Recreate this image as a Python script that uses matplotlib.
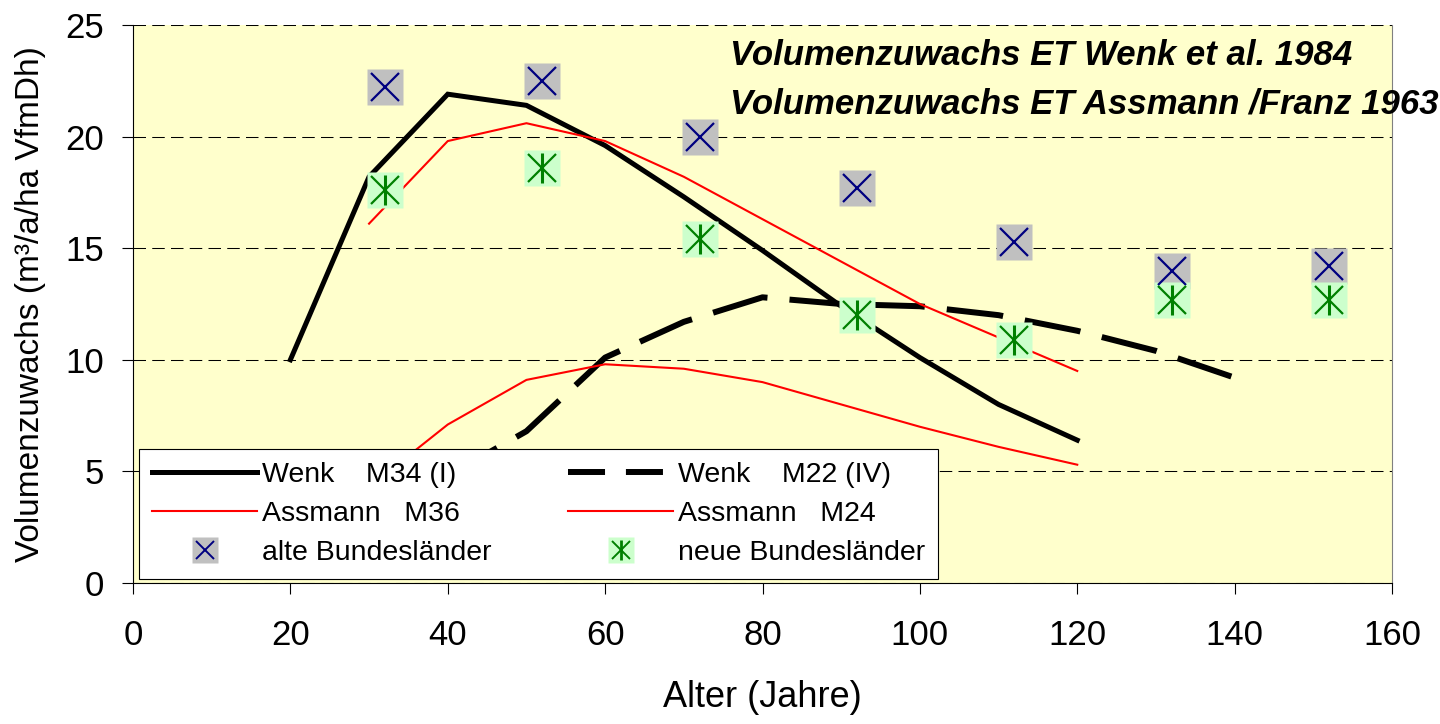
import numpy as np
import matplotlib
matplotlib.use("Agg")
import matplotlib.pyplot as plt
from matplotlib.lines import Line2D

plt.rcParams['font.family'] = ['Liberation Sans', 'DejaVu Sans']

# Ertragstafel-Kurven (Alter in Jahren, Zuwachs in m3/a/ha)
alter_m34 = [20, 30, 40, 50, 60, 70, 80, 90, 100, 110, 120]
wenk_m34 = [10.0, 18.2, 21.9, 21.4, 19.6, 17.3, 14.9, 12.4, 10.1, 8.0, 6.4]

alter_m22 = [40, 50, 60, 70, 80, 90, 100, 110, 120, 130, 140]
wenk_m22 = [4.8, 6.8, 10.1, 11.7, 12.8, 12.5, 12.4, 12.0, 11.3, 10.4, 9.2]

alter_a36 = [30, 40, 50, 60, 70, 80, 90, 100, 110, 120]
assmann_m36 = [16.1, 19.8, 20.6, 19.8, 18.2, 16.3, 14.4, 12.5, 11.0, 9.5]

alter_a24 = [30, 40, 50, 60, 70, 80, 90, 100, 110, 120]
assmann_m24 = [4.3, 7.1, 9.1, 9.8, 9.6, 9.0, 8.0, 7.0, 6.1, 5.3]

# Inventurwerte
alter_inv = [32, 52, 72, 92, 112, 132, 152]
alte_bl = [22.2, 22.5, 20.0, 17.7, 15.3, 14.0, 14.2]
neue_bl = [17.6, 18.6, 15.4, 12.0, 10.9, 12.7, 12.7]

fig = plt.figure(figsize=(14.4, 7.24), dpi=100)
ax = fig.add_axes([133 / 1440, 1 - 583 / 724, 1259 / 1440, 558 / 724])
ax.set_facecolor('#FFFFCC')

ax.plot(alter_m34, wenk_m34, color='black', lw=3.6, solid_joinstyle='miter', zorder=3)
ax.plot(alter_m22, wenk_m22, color='black', lw=4.3, dashes=(9.5, 3.7), zorder=3)
ax.plot(alter_a36, assmann_m36, color='red', lw=1.5, zorder=3)
ax.plot(alter_a24, assmann_m24, color='red', lw=1.5, zorder=3)

ax.plot(alter_inv, alte_bl, ls='none', marker='s', ms=26.5, mfc='#C0C0C0', mec='none', zorder=4)
ax.plot(alter_inv, alte_bl, ls='none', marker='x', ms=20, mec='#000080', mew=1.6, zorder=5)
ax.plot(alter_inv, neue_bl, ls='none', marker='s', ms=26.5, mfc='#CCFFCC', mec='none', zorder=4)
ax.plot(alter_inv, neue_bl, ls='none', marker='x', ms=20, mec='#008000', mew=1.6, zorder=5)
ax.plot(alter_inv, neue_bl, ls='none', marker='|', ms=21, mec='#008000', mew=2.2, zorder=5)

ax.set_xlim(0, 160)
ax.set_ylim(0, 25)
ax.set_xticks(np.arange(0, 161, 20))
ax.set_yticks(np.arange(0, 26, 5))
ax.tick_params(direction='out', length=8, width=0.8, labelsize=25)
ax.tick_params(axis='x', pad=18)
ax.tick_params(axis='y', pad=13)
ax.yaxis.grid(True, color='black', lw=0.75, ls=(0, (12, 6)))
ax.set_axisbelow(True)
ax.spines['top'].set_visible(False)
ax.spines['right'].set_color('#808080')
ax.spines['right'].set_linewidth(0.8)

ax.set_xlabel('Alter (Jahre)', fontsize=26, labelpad=20)
ax.set_ylabel('Volumenzuwachs (m³/a/ha VfmDh)', fontsize=24, labelpad=14)

ax.text(0.474, 0.975, 'Volumenzuwachs ET Wenk et al. 1984\nVolumenzuwachs ET Assmann /Franz 1963',
        transform=ax.transAxes, ha='left', va='top', fontsize=25,
        fontweight='bold', fontstyle='italic', linespacing=1.6, clip_on=False)

# Legende mit eigenen Symbolen
h_m34 = Line2D([], [], color='black', lw=3.6)
h_m22 = Line2D([], [], color='black', lw=4.3, dashes=(6.2, 3.5))
h_a36 = Line2D([], [], color='red', lw=1.5)
h_a24 = Line2D([], [], color='red', lw=1.5)
h_alte = (Line2D([], [], ls='none', marker='s', ms=19, mfc='#C0C0C0', mec='none'),
          Line2D([], [], ls='none', marker='x', ms=13, mec='#000080', mew=1.4))
h_neue = (Line2D([], [], ls='none', marker='s', ms=19, mfc='#CCFFCC', mec='none'),
          Line2D([], [], ls='none', marker='x', ms=13, mec='#008000', mew=1.4),
          Line2D([], [], ls='none', marker='|', ms=14, mec='#008000', mew=2))

leg = ax.legend([h_m34, h_a36, h_alte, h_m22, h_a24, h_neue],
                ['Wenk    M34 (I)', 'Assmann   M36', 'alte Bundesländer',
                 'Wenk    M22 (IV)', 'Assmann   M24', 'neue Bundesländer'],
                ncol=2, loc='lower left', bbox_to_anchor=(0.005, 0.008), borderaxespad=0,
                fontsize=20.5, frameon=True, fancybox=False, framealpha=1,
                edgecolor='black', handlelength=3.7, handletextpad=0.15,
                columnspacing=2.7, labelspacing=0.45, borderpad=0.45)
leg.get_frame().set_linewidth(0.8)
leg.set_zorder(6)

fig.savefig('out.png', dpi=100)
